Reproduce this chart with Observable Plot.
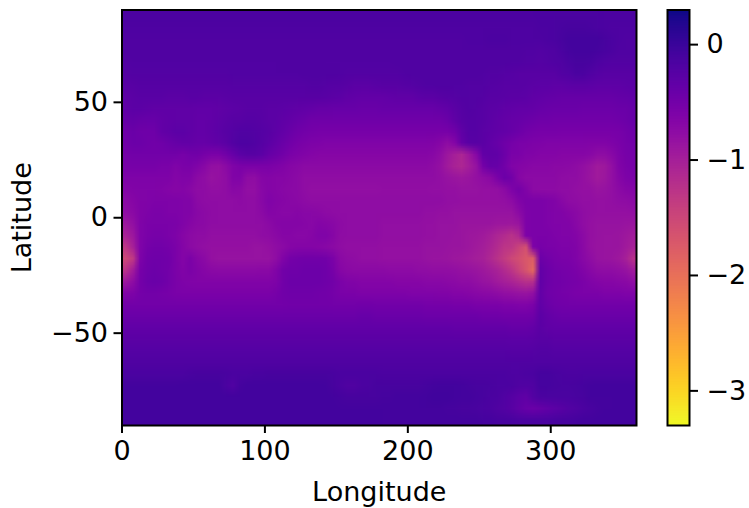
<!DOCTYPE html>
<html><head><meta charset="utf-8">
<script src="https://cdn.jsdelivr.net/npm/d3@7"></script>
<script src="https://cdn.jsdelivr.net/npm/@observablehq/plot@0.6"></script>
<style>
html,body{margin:0;padding:0;background:#fff}
#root{position:relative;width:749px;height:508px;overflow:hidden}
#root svg{position:absolute;left:0;top:0;background:none}
</style></head><body><div id="root"></div>
<script>
const xTicks = [0,100,200,300];
const yTicks = [-50,0,50];
const barTicks = [0,-1,-2,-3];
const lons = d3.range(72);   // columns centred on 2.5,7.5,...,357.5 degrees
const lats = d3.range(36);   // rows centred on 87.5,82.5,...,-87.5 degrees
// values, in hundredths below zero
const rows = [
[16,16,16,16,16,16, 16,16,16,16,16,16, 16,16,16,16,16,16, 16,16,16,16,16,16, 16,16,16,16,16,16, 16,16,16,16,16,16, 16,16,16,16,16,16, 16,16,16,16,16,16, 16,16,16,16,16,16, 16,16,16,16,15,15, 15,15,15,15,15,15, 15,16,16,16,16,16],
[17,17,17,17,17,17, 17,17,17,17,17,17, 17,17,17,17,17,17, 17,17,17,17,17,17, 17,17,17,17,17,17, 17,17,17,17,17,17, 17,17,17,17,17,17, 17,17,17,17,17,17, 17,17,17,17,17,17, 17,17,17,17,16,16, 14,13,12,12,12,13, 14,16,17,17,17,17],
[18,18,18,18,18,18, 18,18,18,18,18,18, 18,18,18,18,18,18, 18,18,18,18,18,18, 18,18,18,18,18,18, 18,18,18,18,18,18, 18,18,18,18,18,18, 18,18,18,18,18,18, 17,17,17,16,16,16, 17,17,17,17,17,16, 15,11,9,8,8,8, 9,11,15,17,18,18],
[19,19,19,19,19,19, 19,19,19,19,19,19, 19,19,19,19,19,19, 19,19,19,19,18,18, 18,18,18,18,19,19, 19,19,19,19,19,19, 19,19,19,19,18,18, 18,18,18,18,18,18, 18,18,18,18,18,19, 19,19,20,20,21,20, 18,14,10,8,8,8, 10,13,16,19,19,19],
[21,20,20,20,20,20, 20,20,20,20,20,20, 20,20,20,20,20,20, 20,20,20,20,19,19, 19,19,19,19,20,20, 20,20,20,20,20,20, 20,20,19,19,19,18, 18,18,18,18,18,18, 18,18,18,19,19,19, 20,20,21,22,23,22, 20,18,15,11,11,13, 17,20,22,22,21,21],
[23,22,21,21,21,21, 21,21,21,21,21,21, 21,21,21,20,20,20, 20,20,20,20,20,20, 20,19,19,19,19,19, 20,21,21,22,22,22, 22,22,21,20,19,18, 18,18,18,18,18,18, 19,19,20,21,22,23, 24,25,25,25,26,26, 25,22,20,15,16,20, 23,25,26,26,26,25],
[27,25,24,24,24,24, 24,24,24,24,24,24, 24,24,24,23,23,23, 23,23,23,23,23,23, 23,23,22,21,23,24, 24,26,28,28,28,27, 26,26,25,24,23,21, 20,20,19,19,20,20, 21,22,22,23,24,25, 26,26,27,28,30,30, 31,31,30,28,28,30, 31,31,31,31,30,29],
[31,28,27,27,27,27, 28,28,28,27,27,28, 28,28,27,26,25,25, 25,25,25,25,26,26, 26,26,26,26,27,29, 30,32,34,35,35,35, 35,34,33,33,32,30, 29,28,26,24,23,22, 22,22,23,25,26,27, 28,29,30,32,34,36, 37,38,38,38,38,38, 38,38,38,37,36,34],
[33,30,30,31,32,32, 33,33,33,33,34,34, 34,33,31,30,28,27, 27,27,28,29,30,31, 32,34,36,38,38,40, 40,40,40,41,41,41, 40,40,40,40,40,40, 40,39,37,34,28,24, 22,23,25,28,30,32, 34,35,36,37,39,41, 42,43,43,43,44,44, 44,44,44,43,42,38],
[38,36,38,40,40,36, 34,32,32,33,36,36, 34,31,28,26,25,24, 24,26,28,30,33,36, 40,43,46,47,47,47, 47,47,47,47,47,47, 47,47,47,47,47,47, 47,47,46,42,33,26, 23,24,26,30,33,35, 38,40,42,44,46,47, 48,48,48,48,48,48, 48,48,48,47,44,40],
[46,42,45,46,45,36, 33,30,30,32,36,36, 33,30,26,23,20,20, 21,23,26,31,36,41, 46,49,52,53,54,54, 54,54,54,54,54,54, 54,54,54,54,54,54, 54,54,55,54,48,32, 24,24,28,31,34,36, 40,44,49,52,53,54, 54,55,55,55,55,55, 55,55,55,53,50,45],
[48,44,44,46,48,46, 42,38,36,36,38,38, 36,33,28,22,17,17, 20,24,30,36,42,48, 54,56,59,60,62,62, 62,62,62,62,62,62, 62,62,62,62,62,62, 62,64,68,76,66,38, 27,26,29,34,40,46, 52,56,58,59,60,62, 62,62,62,62,62,64, 64,63,60,56,52,50],
[52,50,50,50,50,50, 50,50,54,50,48,54, 58,58,50,40,30,26, 26,30,38,44,50,56, 60,64,67,68,68,68, 68,68,68,68,68,68, 68,68,68,68,68,68, 68,70,78,90,100,108, 92,70,36,32,34,44, 56,58,62,64,66,67, 67,68,68,68,68,70, 76,76,70,60,54,52],
[55,54,54,54,54,56, 56,62,58,56,62,70, 80,82,74,62,58,58, 58,58,58,60,64,68, 70,73,74,74,74,74, 74,74,74,74,74,74, 73,73,73,73,73,73, 74,76,82,94,104,110, 98,84,52,38,40,50, 62,66,68,70,71,71, 72,72,74,76,80,86, 94,92,80,64,56,54],
[60,60,60,60,60,60, 60,66,62,64,74,78, 84,82,78,64,62,76, 78,68,66,68,68,70, 74,78,78,78,78,78, 78,78,78,78,78,78, 77,77,77,77,77,77, 77,78,80,84,88,90, 88,82,78,72,56,44, 50,68,74,74,74,74, 74,76,77,78,82,88, 94,90,80,68,60,58],
[66,64,62,62,62,64, 66,68,66,70,76,76, 80,80,78,70,72,80, 80,70,66,68,70,72, 74,78,80,80,80,80, 80,80,80,80,80,80, 79,79,79,79,79,79, 79,80,80,82,82,84, 84,84,82,82,80,74, 60,52,64,74,75,75, 75,77,78,80,82,82, 86,85,80,74,68,66],
[74,68,64,62,60,60, 60,60,62,64,74,76, 78,78,78,77,75,78, 78,70,62,66,68,70, 72,75,78,78,78,78, 78,78,78,78,78,78, 78,78,78,78,78,78, 78,78,78,80,80,82, 82,82,82,82,82,80, 75,64,58,58,58,60, 64,70,76,78,80,80, 82,82,80,78,76,74],
[78,72,64,60,58,58, 60,60,62,64,70,74, 76,78,78,78,78,78, 78,74,66,68,70,70, 68,70,70,72,75,76, 78,78,78,78,78,78, 78,78,78,78,78,78, 80,80,82,82,84,84, 85,85,85,85,85,85, 85,74,60,58,58,60, 62,64,68,72,78,80, 82,82,82,82,82,80],
[90,80,62,58,56,56, 56,58,62,68,72,74, 78,78,78,78,78,78, 78,78,74,68,66,66, 66,68,70,66,68,70, 75,77,78,78,78,78, 80,80,80,80,80,80, 82,82,84,85,85,87, 88,88,88,88,90,90, 92,88,60,58,58,60, 62,62,64,70,78,82, 84,84,84,84,86,88],
[104,90,62,56,54,54, 56,60,68,74,76,76, 80,80,80,80,80,80, 80,78,76,72,68,68, 70,70,68,62,62,68, 76,78,78,78,78,78, 80,80,80,80,80,80, 82,82,84,84,86,88, 90,92,94,100,108,116, 124,112,60,58,58,58, 60,62,62,66,74,82, 84,86,86,88,92,96],
[130,102,62,52,50,50, 52,58,66,74,78,80, 82,82,82,82,82,82, 84,84,82,78,74,68, 66,66,66,68,70,74, 78,80,80,80,80,80, 82,82,82,82,82,82, 84,84,84,86,88,88, 90,94,98,106,116,128, 130,146,162,60,54,56, 58,60,60,64,72,82, 86,86,86,88,94,102],
[152,132,60,48,46,46, 48,58,66,58,68,74, 82,84,84,84,84,84, 84,84,84,78,64,52, 50,48,48,48,50,58, 72,76,78,80,80,80, 82,82,82,82,82,82, 84,86,86,88,90,92, 94,98,102,112,124,136, 150,160,172,178,44,50, 54,56,58,62,70,78, 84,86,88,92,102,122],
[126,96,54,46,44,46, 50,58,64,58,64,68, 72,74,74,74,74,74, 74,72,72,64,50,46, 46,44,44,44,46,54, 68,72,74,74,74,74, 74,75,75,75,75,77, 77,79,79,79,81,83, 85,87,91,97,105,115, 128,148,168,192,36,44, 50,52,54,58,64,70, 76,78,78,80,84,94],
[90,76,52,44,42,44, 50,56,60,62,64,64, 64,64,64,64,64,64, 64,64,64,60,50,44, 44,44,44,44,46,50, 58,62,64,66,66,66, 66,66,68,68,68,68, 70,70,70,72,74,76, 76,80,84,88,94,100, 106,114,122,120,34,44, 48,50,52,54,58,62, 66,68,68,70,72,78],
[64,60,52,50,50,52, 54,56,58,58,58,58, 58,58,58,58,58,58, 58,58,58,54,48,46, 46,46,46,48,50,52, 56,58,58,60,60,60, 60,60,60,60,62,62, 62,62,64,64,66,66, 68,70,72,74,76,80, 82,84,86,80,36,46, 50,52,54,56,58,58, 58,60,60,60,62,62],
[50,50,50,50,50,50, 50,50,50,50,50,50, 50,50,50,50,50,50, 50,50,50,50,50,48, 48,48,48,48,48,50, 50,50,50,48,48,50, 50,50,50,50,50,50, 52,52,52,52,54,54, 54,56,56,58,58,60, 60,62,62,58,34,42, 46,48,50,50,50,50, 50,50,50,50,50,50],
[42,42,42,42,42,42, 42,42,42,42,42,42, 42,42,42,42,42,42, 42,42,42,42,42,42, 42,42,42,42,42,42, 42,42,42,40,40,42, 42,42,42,42,42,42, 44,44,44,44,44,44, 44,44,46,46,46,48, 48,48,48,46,30,36, 40,42,42,42,42,42, 42,42,42,42,42,42],
[34,34,34,34,34,34, 34,34,34,34,34,34, 34,34,34,34,34,34, 34,34,34,34,34,34, 34,34,34,34,34,34, 34,34,34,34,34,34, 34,34,34,34,34,34, 34,34,34,34,35,35, 36,36,36,36,36,36, 38,38,38,36,28,32, 34,34,34,34,34,34, 34,34,34,34,34,34],
[28,28,28,28,28,28, 28,28,28,28,28,28, 28,28,28,28,28,28, 28,28,28,28,28,28, 28,28,28,28,28,28, 28,28,28,28,28,28, 28,28,28,28,28,28, 28,28,28,28,28,28, 29,29,29,29,29,29, 30,30,30,28,25,26, 28,28,28,28,28,28, 28,28,28,28,28,28],
[23,23,23,23,23,23, 23,23,23,23,23,23, 23,23,23,23,23,23, 23,23,23,23,23,23, 23,23,23,23,23,23, 23,23,23,23,23,23, 23,23,23,23,23,23, 23,23,23,23,23,23, 23,23,23,23,23,23, 24,24,24,23,22,22, 23,23,23,23,23,23, 23,23,23,23,23,23],
[19,19,19,19,19,19, 19,19,19,19,19,19, 19,19,19,19,19,19, 19,19,19,19,19,19, 19,19,19,19,19,19, 19,19,19,19,19,19, 19,19,19,19,19,19, 19,19,19,19,19,19, 19,19,19,19,19,19, 19,19,19,19,18,18, 18,18,18,18,18,18, 19,19,19,19,19,19],
[15,15,15,15,15,15, 15,15,14,13,12,12, 11,11,13,15,15,14, 13,13,12,12,12,11, 11,11,11,11,12,13, 15,15,15,15,15,15, 16,16,16,16,16,16, 16,16,16,16,16,16, 16,16,16,16,16,16, 17,17,16,14,10,10, 13,15,16,16,15,15, 15,15,15,15,15,15],
[8,8,8,8,8,8, 8,8,7,7,7,7, 7,7,14,20,10,7, 7,7,7,7,7,7, 7,7,7,7,8,12, 16,18,18,16,14,12, 12,12,12,11,11,11, 10,8,7,7,7,9, 10,11,12,13,14,15, 16,18,20,18,10,10, 12,13,13,12,10,8, 7,7,7,7,7,8],
[7,7,7,7,7,7, 7,7,7,7,7,7, 7,7,7,7,7,7, 7,7,7,7,7,7, 7,7,7,7,7,8, 10,12,12,12,12,11, 10,10,9,9,8,8, 7,6,6,6,7,8, 9,10,12,14,16,20, 24,30,32,22,16,14, 14,14,14,13,11,9, 8,8,8,8,7,7],
[7,7,7,7,7,7, 7,7,7,7,7,7, 7,7,7,7,7,7, 7,7,7,7,7,7, 7,7,7,7,7,7, 8,8,9,9,9,9, 9,9,9,9,9,9, 9,9,9,10,10,11, 12,13,14,16,18,22, 26,32,40,42,38,34, 30,26,22,18,16,13, 10,8,8,7,7,7],
[7,7,7,7,7,7, 7,7,7,7,7,7, 7,7,7,7,7,7, 7,7,7,7,7,7, 7,7,7,7,7,7, 7,7,7,7,7,7, 8,8,8,8,8,8, 8,8,8,8,8,8, 9,9,10,10,11,12, 13,14,15,15,15,14, 13,12,11,10,9,8, 7,7,7,7,7,7]
];
const values = lats.flatMap(r => lons.map(c => -rows[r][c] / 100));
const colorScale = {type:"linear", scheme:"plasma", domain:[-3.3,0.3], reverse:true};
const font = {fontFamily:"'DejaVu Sans',sans-serif", fontSize:"27px", color:"#000", background:"none"};

const map = Plot.plot({
  width:749, height:508,
  marginLeft:121.5, marginRight:113, marginTop:9.5, marginBottom:83,
  style:font,
  x:{domain:[0,360]},
  y:{domain:[-90,90]},
  color:colorScale,
  marks:[
    Plot.raster(values,{width:lons.length,height:lats.length,x1:0,x2:360,y1:90,y2:-90}),
    Plot.frame({stroke:"#000",strokeWidth:2}),
    Plot.axisX(xTicks,{tickSize:8,strokeWidth:2,tickPadding:7,label:"Longitude",labelAnchor:"center",labelArrow:"none",labelOffset:75,tickFormat:d3.format("d")}),
    Plot.axisY(yTicks,{tickSize:8,strokeWidth:2,tickPadding:6,label:"Latitude",labelAnchor:"center",labelArrow:"none",labelOffset:110,tickFormat:d=>d3.format("d")(d)})
  ]
});
const bar = Plot.plot({
  width:749, height:508,
  marginLeft:667, marginRight:60, marginTop:9.5, marginBottom:83,
  style:font,
  x:{domain:[0,1],axis:null},
  y:{domain:[-3.3,0.3]},
  color:colorScale,
  marks:[
    Plot.raster({x1:0,x2:1,y1:0.3,y2:-3.3,fill:(x,y)=>y}),
    Plot.frame({stroke:"#000",strokeWidth:2}),
    Plot.axisY(barTicks,{anchor:"right",tickSize:8,strokeWidth:2,tickPadding:9,label:null,tickFormat:d=>d3.format("d")(d)})
  ]
});
document.getElementById("root").append(map,bar);
</script></body></html>
